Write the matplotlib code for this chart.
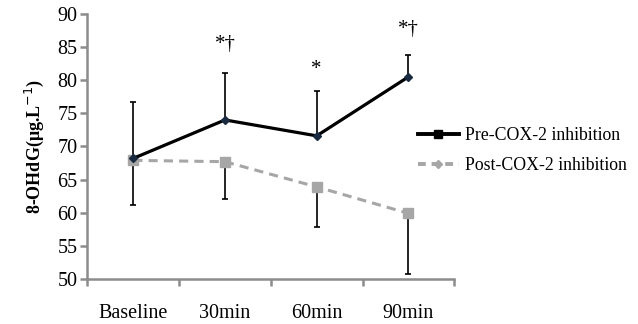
import numpy as np
import matplotlib
matplotlib.use('Agg')
import matplotlib.pyplot as plt
from matplotlib.lines import Line2D

# values
labels = ['Baseline', '30min', '60min', '90min']
pre_mean = [68.2, 74.0, 71.6, 80.5]
pre_upper = [76.7, 81.1, 78.3, 83.8]
post_mean = [67.9, 67.7, 63.9, 59.9]
post_lower = [61.2, 62.1, 57.9, 50.8]
marks = ['', '*†', '*', '*†']
mark_y = [0, 85.4, 81.6, 87.7]

plt.rcParams['font.family'] = ['Liberation Serif', 'DejaVu Serif']

x = np.arange(len(labels))
pre_err = np.array(pre_upper) - np.array(pre_mean)
post_err = np.array(post_mean) - np.array(post_lower)

fig = plt.figure(figsize=(6.38, 3.24), dpi=100)
ax = fig.add_axes([0.137, 0.139, 0.575, 0.818])

grey = '#a6a6a6'
ax.errorbar(x, pre_mean, yerr=[np.zeros(len(x)), pre_err], fmt='none',
            ecolor='black', elinewidth=1.2, capsize=2.5, capthick=1.2, zorder=2)
ax.errorbar(x, post_mean, yerr=[post_err, np.zeros(len(x))], fmt='none',
            ecolor='black', elinewidth=1.2, capsize=2.5, capthick=1.2, zorder=2)
ax.plot(x, post_mean, color=grey, lw=2.2, ls=(0, (3, 2)), marker='s',
        ms=7, mec=grey, mfc=grey, zorder=3)
ax.plot(x, pre_mean, color='black', lw=2.3, marker='D', ms=4,
        mfc='#1a2a40', mec='#1a2a40', zorder=4)

for xi, m, my in zip(x, marks, mark_y):
    if m:
        ax.text(xi, my, m, ha='center', va='center', fontsize=15)

ax.set_xlim(-0.5, 3.5)
ax.set_ylim(50, 90)
ax.set_yticks(np.arange(50, 91, 5))
ax.set_xticks(x)
ax.set_xticklabels(labels)
ax.set_xticks(np.arange(-0.5, 3.6, 1), minor=True)
ax.tick_params(axis='x', which='major', length=0, pad=18, labelsize=14.5)
ax.tick_params(axis='x', which='minor', length=5, width=1.8, color='#8c8c8c')
ax.tick_params(axis='y', length=5, width=1.8, color='#8c8c8c', labelsize=14.5, pad=2)

for s in ['top', 'right']:
    ax.spines[s].set_visible(False)
for s in ['left', 'bottom']:
    ax.spines[s].set_color('#8c8c8c')
    ax.spines[s].set_linewidth(1.8)

ax.set_ylabel('8-OHdG(μg.L$^{-1}$)', fontsize=13, fontweight='bold', labelpad=8)

handles = [Line2D([], [], color='black', lw=2.8, marker='s', ms=6),
           Line2D([], [], color=grey, lw=2.8, ls=(0, (2, 1.5)), marker='D', ms=4)]
fig.legend(handles, ['Pre-COX-2 inhibition', 'Post-COX-2 inhibition'],
           loc='center left', bbox_to_anchor=(0.655, 0.535), frameon=False,
           borderpad=0, borderaxespad=0,
           fontsize=12.8, handlelength=2.3, handletextpad=0.35, labelspacing=0.7)

fig.savefig('out.png', dpi=100)
